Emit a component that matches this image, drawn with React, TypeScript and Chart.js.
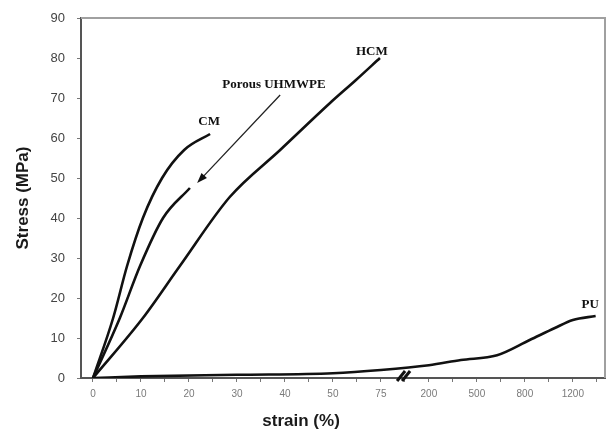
import React, { useEffect, useRef } from 'react';
import { Chart, registerables } from 'chart.js';

Chart.register(...registerables);

// Broken x axis: tick labels placed at equal spacing
const xTickLabels = [0, 10, 20, 30, 40, 50, 75, 200, 500, 800, 1200];
const yTickValues = [0, 10, 20, 30, 40, 50, 60, 70, 80, 90];

// Series (strain %, stress MPa)
const cmStrain = [0, 4.2, 7.1, 10.4, 14.4, 19, 24.4];
const cmStress = [0, 15, 28, 40, 50, 57, 61];

const porousStrain = [0, 5.6, 9.8, 14.6, 20.2];
const porousStress = [0, 15, 28, 40, 47.5];

const hcmStrain = [0, 10.4, 18.1, 28.5, 39, 49.4, 62, 74.5];
const hcmStress = [0, 15, 28, 45.25, 57, 68.75, 74.5, 80];

const puStrain = [0, 10, 30, 50, 75, 200, 400, 626, 840, 1050, 1200, 1390];
const puStress = [0, 0.4, 0.8, 1.2, 2, 3.2, 4.5, 5.7, 9.5, 12.5, 14.5, 15.5];

// Axis-break marker (strain, stress)
const breakStrain = [134];
const breakStress = [0.5];

// Annotation labels (strain, stress)
const labelTexts = ['CM', 'Porous UHMWPE', 'HCM', 'PU'];
const labelStrain = [24.2, 37.7, 70.3, 1345];
const labelStress = [64, 73.25, 81.5, 18.25];

// Arrow from label to Porous UHMWPE curve
const arrowStrain = [39, 21.7];
const arrowStress = [70.75, 48.75];

const xTitle = 'strain (%)';

const X_MIN_POS = -0.25;
const X_MAX_POS = 10.67;

function toPos(s: number): number {
  const L = xTickLabels;
  for (let k = 0; k < L.length - 1; k++) {
    if (s <= L[k + 1]) return k + (s - L[k]) / (L[k + 1] - L[k]);
  }
  const n = L.length - 1;
  return n + (s - L[n]) / (L[n] - L[n - 1]);
}

function pts(xs: number[], ys: number[]) {
  return xs.map((x, i) => ({ x: toPos(x), y: ys[i] }));
}

const annotPlugin = {
  id: 'annot',
  afterDatasetsDraw(chart: any) {
    const { ctx, chartArea, scales } = chart;
    const x = scales.x;
    const y = scales.y;
    ctx.save();
    // top & right frame
    ctx.strokeStyle = '#a0a0a0';
    ctx.lineWidth = 2;
    ctx.beginPath();
    ctx.moveTo(chartArea.left, chartArea.top);
    ctx.lineTo(chartArea.right, chartArea.top);
    ctx.lineTo(chartArea.right, chartArea.bottom);
    ctx.stroke();

    // labels
    ctx.fillStyle = '#111';
    ctx.font = 'bold 13px "Liberation Serif", "DejaVu Serif", serif';
    ctx.textAlign = 'center';
    ctx.textBaseline = 'middle';
    labelTexts.forEach((t, i) => {
      ctx.fillText(t, x.getPixelForValue(toPos(labelStrain[i])), y.getPixelForValue(labelStress[i]));
    });

    // arrow
    const x1 = x.getPixelForValue(toPos(arrowStrain[0]));
    const y1 = y.getPixelForValue(arrowStress[0]);
    const x2 = x.getPixelForValue(toPos(arrowStrain[1]));
    const y2 = y.getPixelForValue(arrowStress[1]);
    const ang = Math.atan2(y2 - y1, x2 - x1);
    const head = 11;
    ctx.strokeStyle = '#222';
    ctx.lineWidth = 1.3;
    ctx.beginPath();
    ctx.moveTo(x1, y1);
    ctx.lineTo(x2 - Math.cos(ang) * head * 0.8, y2 - Math.sin(ang) * head * 0.8);
    ctx.stroke();
    ctx.fillStyle = '#111';
    ctx.beginPath();
    ctx.moveTo(x2, y2);
    ctx.lineTo(x2 - head * Math.cos(ang - 0.35), y2 - head * Math.sin(ang - 0.35));
    ctx.lineTo(x2 - head * Math.cos(ang + 0.35), y2 - head * Math.sin(ang + 0.35));
    ctx.closePath();
    ctx.fill();

    // axis-break marker
    breakStrain.forEach((s, i) => {
      const bx = x.getPixelForValue(toPos(s));
      const by = y.getPixelForValue(breakStress[i]);
      ctx.strokeStyle = '#111';
      ctx.lineWidth = 3;
      ctx.lineCap = 'butt';
      [-2.5, 2.5].forEach((o) => {
        ctx.beginPath();
        ctx.moveTo(bx + o - 4, by + 5);
        ctx.lineTo(bx + o + 4, by - 5);
        ctx.stroke();
      });
    });

    // x axis title (off-centre as in the original)
    ctx.fillStyle = '#1a1a1a';
    ctx.font = 'bold 17px Arial, "Liberation Sans", sans-serif';
    ctx.textAlign = 'center';
    ctx.textBaseline = 'middle';
    ctx.fillText(xTitle, chartArea.left + (chartArea.right - chartArea.left) * 0.42, chartArea.bottom + 43);
    ctx.restore();
  },
};

export default function App() {
  const ref = useRef<HTMLCanvasElement>(null);
  useEffect(() => {
    if (!ref.current) return;
    const lineStyle = {
      borderColor: '#111',
      borderWidth: 2.6,
      pointRadius: 0,
      cubicInterpolationMode: 'monotone' as const,
      fill: false,
    };
    const chart = new Chart(ref.current, {
      type: 'scatter',
      data: {
        datasets: [
          { label: 'CM', data: pts(cmStrain, cmStress), showLine: true, ...lineStyle },
          { label: 'Porous UHMWPE', data: pts(porousStrain, porousStress), showLine: true, ...lineStyle },
          { label: 'HCM', data: pts(hcmStrain, hcmStress), showLine: true, ...lineStyle },
          { label: 'PU', data: pts(puStrain, puStress), showLine: true, ...lineStyle },
        ],
      },
      options: {
        animation: false,
        responsive: false,
        devicePixelRatio: 1,
        layout: { padding: { left: 0, right: 3, top: 18, bottom: 0 } },
        plugins: { legend: { display: false }, tooltip: { enabled: false } },
        scales: {
          x: {
            type: 'linear',
            min: X_MIN_POS,
            max: X_MAX_POS,
            afterBuildTicks: (scale: any) => {
              const t: any[] = [];
              for (let i = 0; i < xTickLabels.length; i++) {
                t.push({ value: i });
                if (i + 0.5 <= X_MAX_POS) t.push({ value: i + 0.5 });
              }
              scale.ticks = t;
            },
            afterFit: (scale: any) => {
              scale.height = 60;
              scale.paddingLeft = 0;
              scale.paddingRight = 0;
            },
            ticks: {
              autoSkip: false,
              maxRotation: 0,
              padding: 6,
              color: '#7a7a7a',
              font: { family: 'Arial, "Liberation Sans", sans-serif', size: 10 },
              callback: (v: any) => {
                const i = Number(v);
                return Number.isInteger(i) ? String(xTickLabels[i]) : '';
              },
            },
            grid: { display: true, drawOnChartArea: false, drawTicks: true, tickLength: 4, color: '#777' },
            border: { color: '#555', width: 2 },
            title: { display: false },
          },
          y: {
            type: 'linear',
            min: 0,
            max: 90,
            afterBuildTicks: (scale: any) => {
              scale.ticks = yTickValues.map((v) => ({ value: v }));
            },
            afterFit: (scale: any) => {
              scale.width = 81;
              scale.paddingTop = 0;
              scale.paddingBottom = 0;
            },
            ticks: {
              padding: 12,
              color: '#444',
              font: { family: 'Arial, "Liberation Sans", sans-serif', size: 13 },
            },
            grid: { display: true, drawOnChartArea: false, drawTicks: true, tickLength: 4, color: '#777' },
            border: { color: '#555', width: 2 },
            title: {
              display: true,
              text: 'Stress (MPa)',
              color: '#1a1a1a',
              font: { family: 'Arial, "Liberation Sans", sans-serif', size: 17, weight: 'bold' },
              padding: { top: 13, bottom: 0 },
            },
          },
        },
      },
      plugins: [annotPlugin],
    });
    return () => chart.destroy();
  }, []);
  return (
    <div style={{ position: 'fixed', left: 0, top: 0, width: 608, height: 438, background: '#fff' }}>
      <canvas ref={ref} width={608} height={438} style={{ display: 'block', width: 608, height: 438 }} />
    </div>
  );
}
